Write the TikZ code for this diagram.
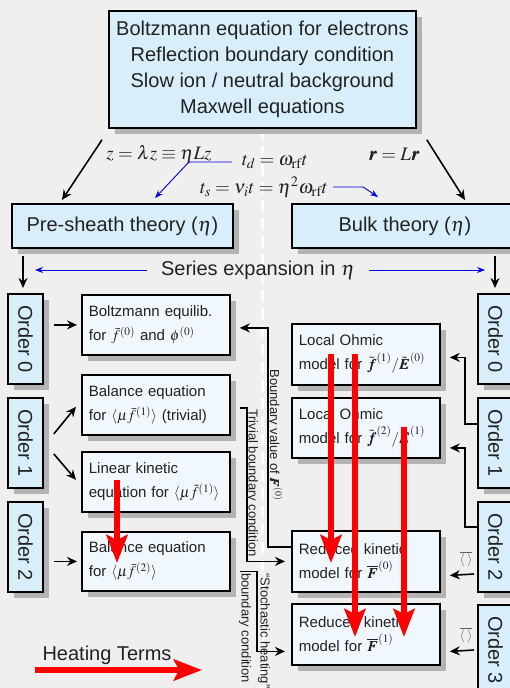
\documentclass[tikz,border=0pt]{standalone}
\usepackage{mathptmx}
\usepackage[no-math]{fontspec}
\setmainfont{Liberation Sans}
\usepackage{bm}
\usepackage{graphicx}
\def\defaultscriptratio{.76}
\def\defaultscriptscriptratio{.6}
\usetikzlibrary{arrows.meta,calc,shadows}
\definecolor{bgc}{HTML}{EFEFEF}
\definecolor{bluef}{HTML}{D9EEFB}
\definecolor{contf}{HTML}{F0F7FD}
\definecolor{shc}{HTML}{B3B3B3}
\definecolor{txtc}{HTML}{222222}
\definecolor{bluel}{HTML}{0000E0}
\tikzset{
  sh/.style={drop shadow={shadow xshift=6pt,shadow yshift=-6pt,fill=shc,opacity=1}},
  bluebox/.style={draw=black,line width=1.8pt,fill=bluef,sh,text=txtc,inner sep=0pt,anchor=north west},
  contentbox/.style={draw=black,line width=1.8pt,fill=contf,sh,text=txtc,anchor=north west,align=left,
    text width=134pt,inner xsep=7pt,inner ysep=0pt,font=\fontsize{15}{24}\selectfont},
  big/.style={font=\fontsize{20}{24}\selectfont},
  lab/.style={text=txtc,inner sep=0pt,font=\fontsize{19}{21}\selectfont},
  rl/.style={text=txtc,inner sep=0pt,font=\fontsize{13}{15}\selectfont},
  arr/.style={draw=black,line width=1.6pt,-{Stealth[length=10pt,width=9pt]}},
  barr/.style={draw=bluel,line width=0.9pt,-{Stealth[length=8pt,width=6pt]}},
  heat/.style={draw=red,line width=5.5pt,-{Stealth[length=28pt,width=21pt,inset=5pt]}},
  avg/.style={inner sep=0pt,text=gray!75!black,font=\fontsize{13}{14}\selectfont},
}
\begin{document}
\begin{tikzpicture}[x=1pt,y=-1pt]
\useasboundingbox (0,0) rectangle (510,688);
\fill[bgc] (0,0) rectangle (510,688);
% dashed divider
\coordinate (dT) at (262,128);
\coordinate (dB) at (262,688);
\draw[white,line width=3pt,dash pattern=on 11pt off 7pt] (dT) -- (dB);

% top box
\node[bluebox,minimum width=307pt,minimum height=117pt,align=center,font=\fontsize{20}{26}\selectfont] (top) at (108,10)
  {Boltzmann equation for electrons\\Reflection boundary condition\\Slow ion / neutral background\\Maxwell equations};

% theory boxes
\node[bluebox,big,minimum width=221pt,minimum height=44pt] (pre) at (11,203) {Pre-sheath theory ($\eta$)};
\node[bluebox,big,minimum width=226pt,minimum height=44pt] (bulk) at (291,203) {Bulk theory ($\eta$)};

% order boxes
\node[bluebox,big,minimum width=35pt,minimum height=90pt] (o0L) at (7,293) {\rotatebox{-90}{Order 0}};
\node[bluebox,big,minimum width=35pt,minimum height=90pt] (o1L) at (7,397) {\rotatebox{-90}{Order 1}};
\node[bluebox,big,minimum width=35pt,minimum height=90pt] (o2L) at (7,501) {\rotatebox{-90}{Order 2}};
\node[bluebox,big,minimum width=35pt,minimum height=90pt] (o0R) at (477,293) {\rotatebox{-90}{Order 0}};
\node[bluebox,big,minimum width=35pt,minimum height=90pt] (o1R) at (477,397) {\rotatebox{-90}{Order 1}};
\node[bluebox,big,minimum width=35pt,minimum height=90pt] (o2R) at (477,501) {\rotatebox{-90}{Order 2}};
\node[bluebox,big,minimum width=35pt,minimum height=90pt] (o3R) at (477,604) {\rotatebox{-90}{Order 3}};

% content boxes left
\node[contentbox,minimum height=60pt] (b1) at (81,294) {Boltzmann equilib.\\for $\bar f^{(0)}$ and $\phi^{(0)}$};
\node[contentbox,minimum height=60pt] (b2) at (81,374) {Balance equation\\for $\langle\mu\bar f^{(1)}\rangle$ (trivial)};
\node[contentbox,minimum height=60pt] (b3) at (81,451) {Linear kinetic\\equation for $\langle\mu\tilde f^{(1)}\rangle$};
\node[contentbox,minimum height=59pt] (b4) at (81,531) {Balance equation\\for $\langle\mu\bar f^{(2)}\rangle$};
% content boxes right
\node[contentbox,minimum height=61pt] (r1) at (291,323) {Local Ohmic\\model for $\tilde{\bm f}^{(1)}/\tilde{\bm E}^{(0)}$};
\node[contentbox,minimum height=60pt] (r2) at (291,397) {Local Ohmic\\model for $\tilde{\bm f}^{(2)}/\tilde{\bm E}^{(1)}$};
\node[contentbox,minimum height=61pt] (r3) at (291,530) {Reduced kinetic\\model for $\overline{\bm F}^{(0)}$};
\node[contentbox,minimum height=61pt] (r4) at (291,603) {Reduced kinetic\\model for $\overline{\bm F}^{(1)}$};

% math labels
\node[lab] (zl) at (159,154) {$z=\lambda z\equiv\eta Lz$};
\node[lab] (rl) at (394,154) {$\bm r=L\bm r$};
\node[lab,inner xsep=10pt] (td) at (275,162) {$t_d=\omega_{\mathrm{rf}}t$};
\node[lab,inner xsep=5pt] (ts) at (264,187) {$t_s=\nu_i t=\eta^2\omega_{\mathrm{rf}}t$};

% top arrows
\draw[arr] ($(top.south west)+(-6,11)$) -- ($(pre.north west)+(51,-3)$);
\draw[arr] ($(top.south east)+(10,11)$) -- ($(bulk.north west)+(174,-3)$);
\draw[barr] (td.west) -- ++(-43,0) -- ($(pre.north west)+(144,-5)$);
\draw[barr] (ts.east) -- ++(30,0) -- ($(bulk.north west)+(87,-6)$);

% down to orders
\draw[arr] ($(pre.south west)+(12,7)$) -- ($(o0L.north west)+(16,-5)$);
\draw[arr] ($(bulk.south west)+(204,7)$) -- ($(o0R.north west)+(18,-5)$);

% series expansion
\node[big,text=txtc,inner xsep=14pt] (ser) at (258,270) {Series expansion in $\eta$};
\coordinate (sL) at (35,270);
\coordinate (sR) at (485,270);
\draw[barr] (ser.west) -- (sL);
\draw[barr] (ser.east) -- (sR);

% left order arrows
\draw[arr] ($(o0L.east|-b1.west)+(10,0)$) -- ($(b1.west)+(-4,0)$);
\draw[arr] ($(o1L.east)+(10,-9)$) -- ($(b2.south west)+(-5,-29)$);
\draw[arr] ($(o1L.east)+(10,11)$) -- ($(b3.west)+(-5,-2)$);
\draw[arr] ($(o2L.east|-b4.west)+(10,0)$) -- ($(b4.west)+(-4,0)$);

% right order arrows
\draw[arr] ($(o1R.north west)+(0,27)$) -- ++(-12,0) |- ($(r1.east)+(9,3)$);
\draw[arr] ($(o2R.north west)+(0,26)$) -- ++(-12,0) |- ($(r2.east)+(9,20)$);
\draw[arr] ($(o2R.north west)+(-3,73)$) -- ($(r3.east)+(9,14)$);
\draw[arr] ($(o3R.north west)+(-3,46)$) -- ($(r4.east)+(9,17)$);
\node[avg] (m3) at (466,559) {$\overline{\langle\;\rangle}$};
\node[avg] (m4) at (466,635) {$\overline{\langle\;\rangle}$};

% middle connectors
\draw[arr] ($(r3.north west)+(0,17)$) -- ++(-23,0) |- ($(b1.east)+(9,3)$);
\draw[arr] ($(b2.east)+(9,3)$) -- ++(7,0) |- ($(r3.west)+(-6,0)$);
\draw[arr] ($(b4.east)+(9,10)$) -- ++(17,0) |- ($(r4.west)+(-6,17)$);
\node[rl] (bvl) at (275,435) {\rotatebox{-90}{Boundary value of $\bm F^{(0)}$}};
\node[rl] (tbl) at (252,483) {\rotatebox{-90}{Trivial boundary condition}};
\node[rl] (bcl) at (245,628) {\rotatebox{-90}{boundary condition}};
\node[rl] (shl) at (264,631) {\rotatebox{-90}{``Stochastic heating''}};

% heating arrows
\coordinate (hA1) at (117,480); \coordinate (hA2) at (117,563);
\coordinate (hB1) at (331,354); \coordinate (hB2) at (331,563);
\coordinate (hC1) at (355,354); \coordinate (hC2) at (355,637);
\coordinate (hD1) at (404,427); \coordinate (hD2) at (404,637);
\draw[heat] (hA1) -- (hA2);
\draw[heat] (hB1) -- (hB2);
\draw[heat] (hC1) -- (hC2);
\draw[heat] (hD1) -- (hD2);
% legend
\node[big,text=txtc,inner sep=0pt] (ht) at (107,655) {Heating Terms};
\coordinate (hL1) at (35,670); \coordinate (hL2) at (202,670);
\draw[heat] (hL1) -- (hL2);
\end{tikzpicture}
\end{document}
